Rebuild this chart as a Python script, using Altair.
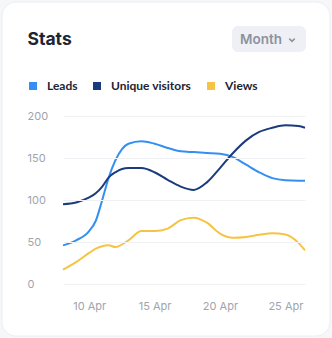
import altair as alt
import pandas as pd

days = [8, 9, 10, 10.5, 11, 11.5, 12, 13, 14, 15, 16, 17, 18, 19, 20, 21, 22, 23, 24, 25, 26, 26.5]
leads = [46, 52, 63, 75, 100, 127, 147, 167, 170, 167, 162, 158, 157, 156, 155, 151, 142, 133, 126, 123.5, 123, 123]
visitors = [95, 97, 103, 108, 116, 127, 133, 138, 138, 133, 124, 116, 112, 121, 138, 156, 171, 181, 186, 189, 188, 186]
views = [17, 26, 37, 42, 45, 46, 44, 52, 63, 63, 66, 76, 79, 73, 60, 55, 56, 58.5, 60.5, 59, 49, 40]
series = ["Leads", "Unique visitors", "Views"]
colors = ["#3390f2", "#1a3c7c", "#f6c445"]
x_ticks = [10, 15, 20, 25]
y_ticks = [0, 50, 100, 150, 200]

FONT = "Inter"
LFONT = "Lato"
OX, OY = 63, 116  # plot origin in page pixels

rows = []
for name, vals in zip(series, [leads, visitors, views]):
    for d, v in zip(days, vals):
        rows.append({"day": d, "value": v, "series": name})
df = pd.DataFrame(rows)
one = pd.DataFrame({"k": [0]})

lines = alt.Chart(df).mark_line(interpolate="monotone", strokeWidth=2).encode(
    x=alt.X("day:Q", scale=alt.Scale(domain=[8, 26.5], nice=False, zero=False),
            axis=alt.Axis(values=x_ticks, labelExpr="datum.value + ' Apr'", title=None,
                          grid=False, domain=False, ticks=False, tickSize=0,
                          labelPadding=16, labelFontSize=11, labelColor="#a0a4ae",
                          labelFont=FONT, zindex=1)),
    y=alt.Y("value:Q", scale=alt.Scale(domain=[0, 200], nice=False),
            axis=alt.Axis(values=y_ticks, title=None, domain=False, ticks=False, tickSize=0,
                          labelAlign="left", labelPadding=36, labelFontSize=11,
                          labelColor="#a0a4ae", labelFont=FONT,
                          grid=True, gridColor="#f0f1f4", gridWidth=1, zindex=1)),
    color=alt.Color("series:N", scale=alt.Scale(domain=series, range=colors),
                    legend=alt.Legend(orient="none", legendX=27 - OX, legendY=80 - OY,
                                      direction="horizontal", title=None,
                                      symbolType="square", symbolSize=16,
                                      symbolStrokeWidth=4, symbolOpacity=1,
                                      labelFont=LFONT, labelFontSize=12,
                                      labelFontWeight=700, labelColor="#1d2433",
                                      labelOffset=8, columnPadding=9, padding=0)),
    order=alt.Order("day:Q"),
)

card = alt.Chart(one).mark_rect(fill="white", stroke="#eceef1", strokeWidth=1,
                                cornerRadius=14).encode(
    x=alt.value(2 - OX), x2=alt.value(330 - OX), y=alt.value(2 - OY), y2=alt.value(336 - OY))

title = alt.Chart(one).mark_text(text="Stats", font=FONT, fontSize=17.5, fontWeight=700,
                                 color="#1d2433", align="left", baseline="middle").encode(
    x=alt.value(27.5 - OX), y=alt.value(40 - OY))

button = alt.Chart(one).mark_rect(fill="#eef0f5", cornerRadius=6).encode(
    x=alt.value(232 - OX), x2=alt.value(306 - OX), y=alt.value(26 - OY), y2=alt.value(52 - OY))

month = alt.Chart(one).mark_text(text="Month", font=FONT, fontSize=13.5, fontWeight=600,
                                 color="#8c92a0", align="left", baseline="middle").encode(
    x=alt.value(240 - OX), y=alt.value(40 - OY))

chev = alt.Chart(one).mark_point(shape="M-1,-0.5L0,0.5L1,-0.5", filled=False,
                                 stroke="#8c92a0", strokeWidth=1.5, size=30,
                                 opacity=1).encode(
    x=alt.value(292 - OX), y=alt.value(40 - OY))

chart = alt.layer(card, button, title, month, chev, lines).properties(
    width=305 - OX, height=284 - OY,
    autosize=alt.AutoSizeParams(type="none"),
    padding={"left": OX, "top": OY, "right": 332 - 305, "bottom": 338 - 284},
    background="#f6f7f9",
).configure_view(stroke=None)

chart.save("out.html", embed_options={"renderer": "svg", "actions": False})
